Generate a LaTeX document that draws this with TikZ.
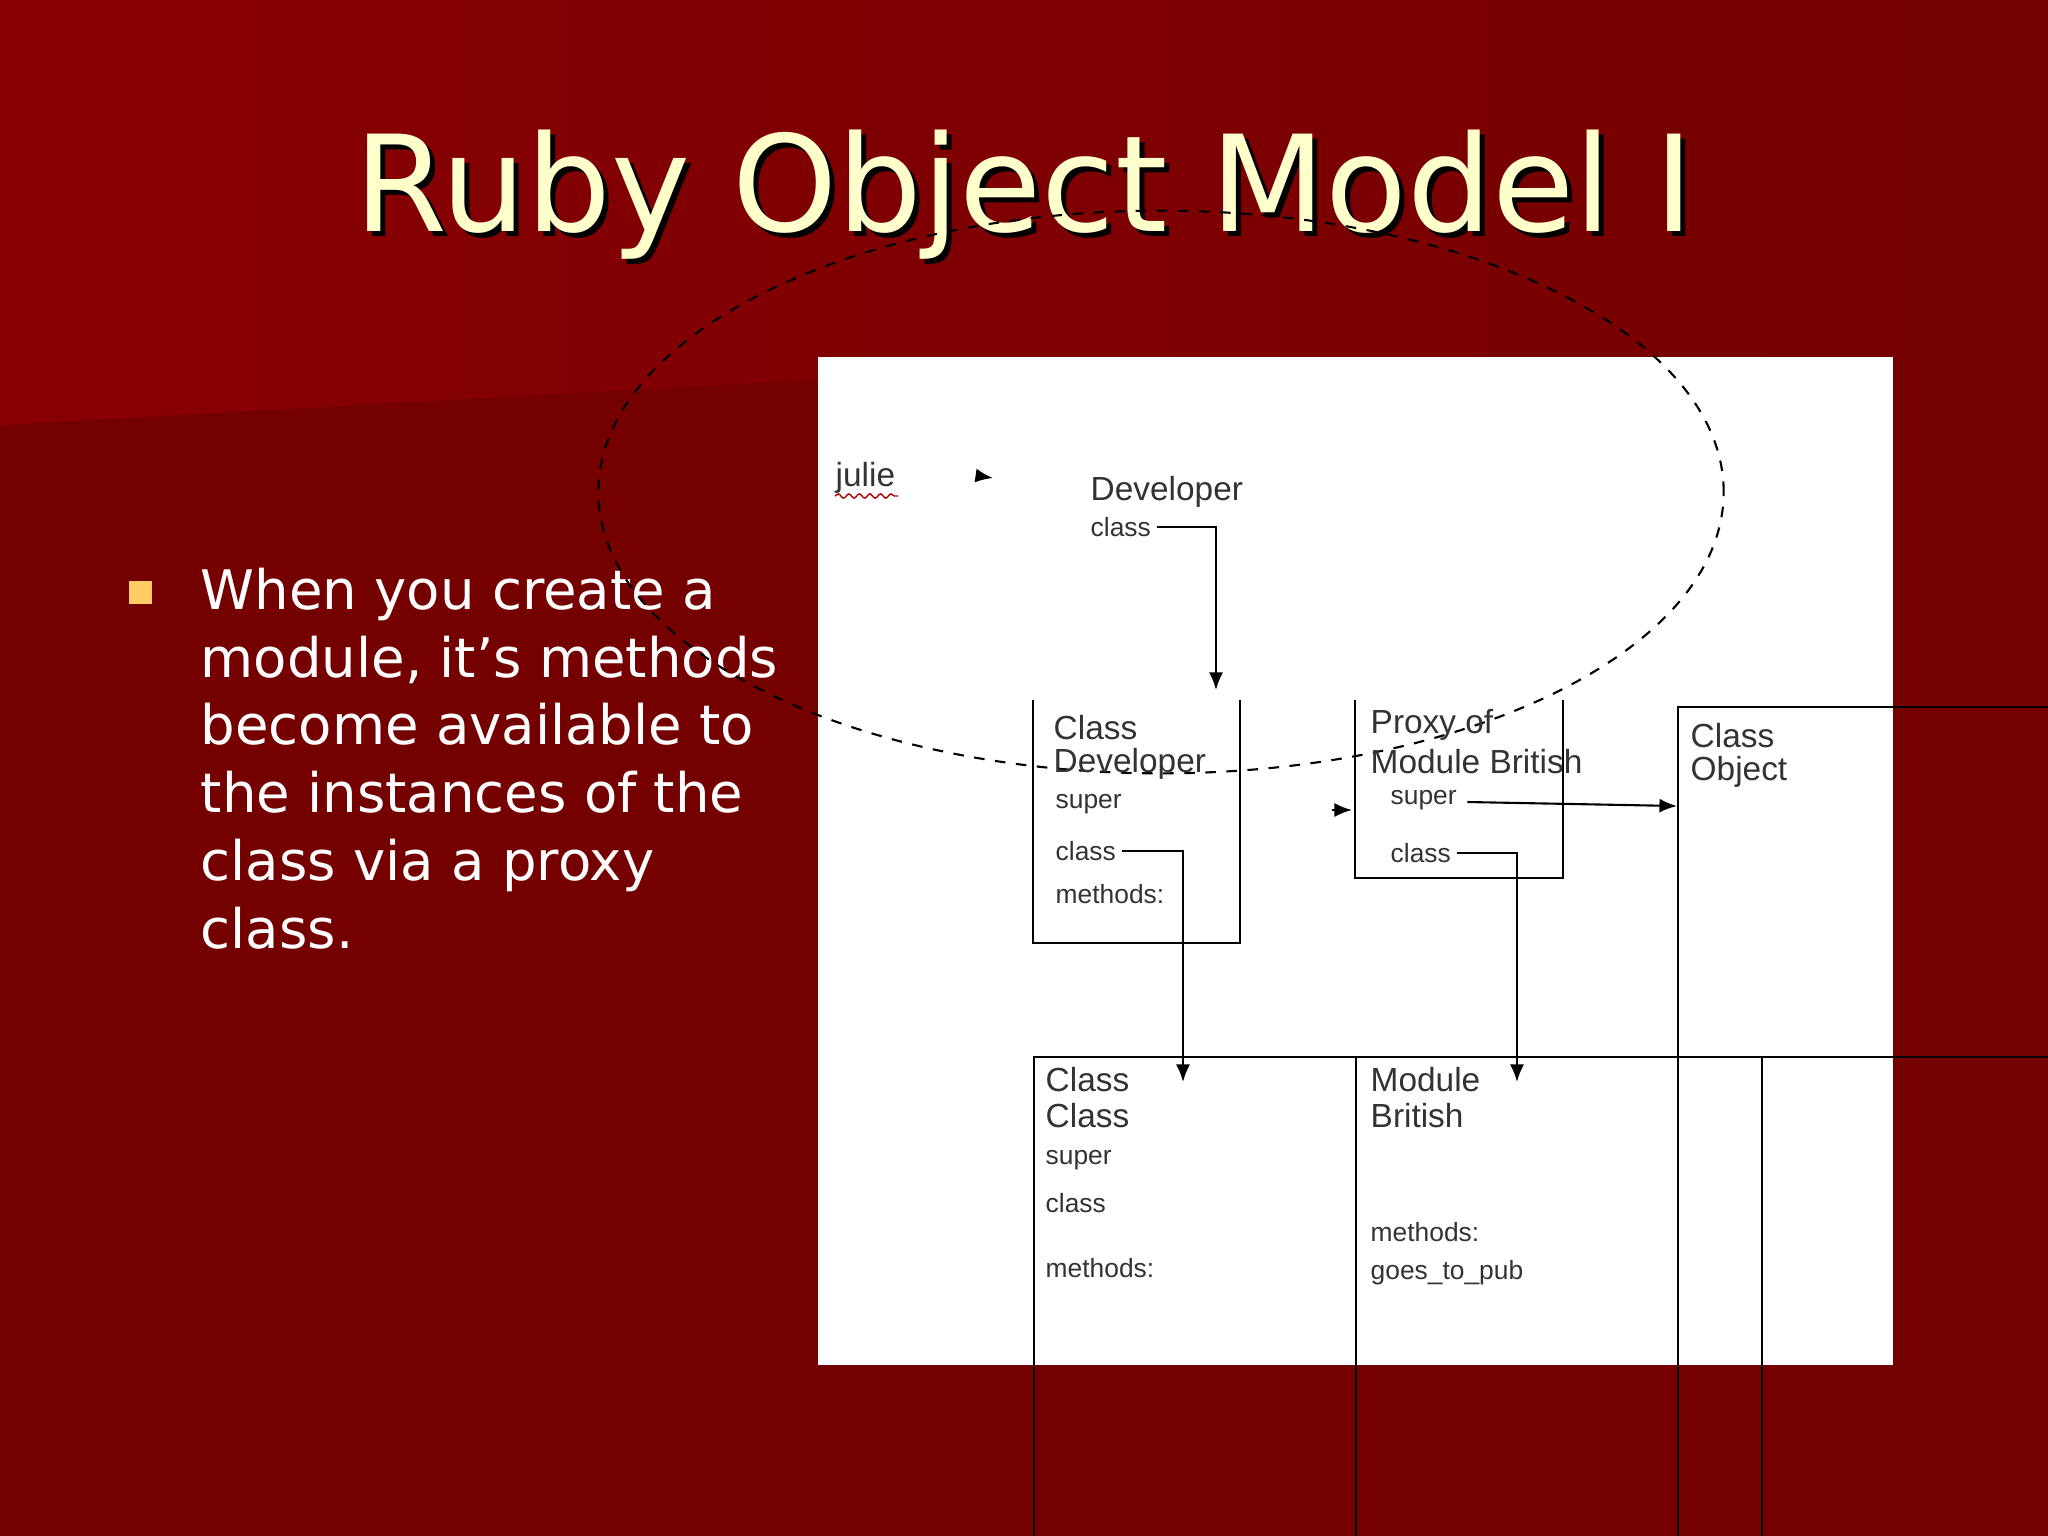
\documentclass[tikz,border=0pt]{standalone}
\usepackage{fontspec}
\setmainfont{DejaVu Sans}
\newfontfamily\arial{Liberation Sans}
\usetikzlibrary{arrows.meta,decorations.pathmorphing,shapes.geometric}
\definecolor{bgred}{HTML}{740000}
\definecolor{topred}{HTML}{880004}
\definecolor{cream}{HTML}{FFFFCC}
\definecolor{bul}{HTML}{FFCC66}
\definecolor{dtxt}{HTML}{333333}
\begin{document}
\begin{tikzpicture}[x=0.01cm,y=-0.01cm,
  lbl/.style={font=\arial\fontsize{9.5}{10}\selectfont,text=dtxt,anchor=west,inner sep=0},
  sml/.style={font=\arial\fontsize{7.5}{8}\selectfont,text=dtxt,anchor=west,inner sep=0},
  conn/.style={draw=black,line width=0.6pt},
  tip/.style={-{Latex[length=5pt,width=4pt]}},
  bx/.style={draw=black,line width=0.7pt}]
\useasboundingbox (0,0) rectangle (2048,1536);
\fill[bgred] (0,0) rectangle (2048,1536);
\shade[left color=topred,right color=bgred] (0,0) -- (2048,0) -- (2048,350) -- (810,380) -- (0,425) -- cycle;
% title
\node[font=\fontsize{38}{40}\selectfont,text=black] at (1029,200) {Ruby Object Model I};
\node[font=\fontsize{38}{40}\selectfont,text=cream] (title) at (1024,195) {Ruby Object Model I};
% bullet
\fill[bul] (129,581) rectangle (152,604);
\node[anchor=north west,text=white,font=\fontsize{15.5}{19.3}\selectfont,align=left,inner sep=0] (bt) at (200,567) {When you create a\\module, it’s methods\\become available to\\the instances of the\\class via a proxy\\class.};
% panel
\fill[white] (818,357) rectangle (1893,1365);
% julie
\node[lbl] (julie) at (835,478) {julie};
\draw[red!70!black,decorate,decoration={snake,amplitude=0.6pt,segment length=3pt}] (835,496) -- (898,496);
% ellipse
\node[draw=black,dashed,ellipse,minimum width=320,minimum height=160,line width=0.6pt,inner sep=0] (ell) at (1161,492) {};
\node[lbl] (dev) at (1090,492) {Developer};
\node[sml] (dcl) at (1090,527) {class};
\coordinate (jt) at (993,478);
\draw[tip,conn] (979,476) -- (jt);
% boxes
\draw[bx] (1033,700) -- (1033,943) -- (1240,943) -- (1240,700);
\draw[bx] (1355,700) -- (1355,878) -- (1563,878) -- (1563,700);
\node[bx,minimum width=211,minimum height=240,anchor=north west,inner sep=0] (cobj) at (1677,706) {};
\node[bx,minimum width=207,minimum height=239,anchor=north west,inner sep=0] (ccls) at (1033,1056) {};
\node[bx,minimum width=208,minimum height=239,anchor=north west,inner sep=0] (mbr) at (1355,1056) {};
% class developer text
\node[lbl] (cd1) at (1053,728) {Class};
\node[lbl] (cd2) at (1053,764) {Developer};
\node[sml] (cd3) at (1055,804) {super};
\node[sml] (cd4) at (1055,851) {class};
\node[sml] (cd5) at (1055,894) {methods:};
% proxy
\node[lbl] (p1) at (1370,725) {Proxy of};
\node[lbl] (p2) at (1370,762) {Module British};
\node[sml] (p3) at (1390,800) {super};
\node[sml] (p4) at (1390,853) {class};
% class object
\node[lbl] (o1) at (1690,736) {Class};
\node[lbl] (o2) at (1690,772) {Object};
% class class
\node[lbl] (c1) at (1045,1080) {Class};
\node[lbl] (c2) at (1045,1116) {Class};
\node[sml] (c3) at (1045,1160) {super};
\node[sml] (c4) at (1045,1203) {class};
\node[sml] (c5) at (1045,1268) {methods:};
% module british
\node[lbl] (m1) at (1370,1080) {Module};
\node[lbl] (m2) at (1370,1116) {British};
\node[sml] (m3) at (1370,1232) {methods:};
\node[sml] (m4) at (1370,1273) {goes\_to\_pub};
% connectors
\coordinate (a1) at (1216,690);
\draw[conn,tip] (dcl.east) ++(5,0) -| (a1);
\coordinate (a2) at (1183,1082);
\draw[conn,tip] (cd4.east) ++(5,0) -| (a2);
\coordinate (a3) at (1517,1082);
\draw[conn,tip] (p4.east) ++(5,0) -| (a3);
\draw[conn,tip] (p3.east) ++(10,2) -- (cobj.west |- 0,806);
\coordinate (a4) at (1352,810);
\draw[conn,tip] (1332,810) -- (a4);
\end{tikzpicture}
\end{document}
